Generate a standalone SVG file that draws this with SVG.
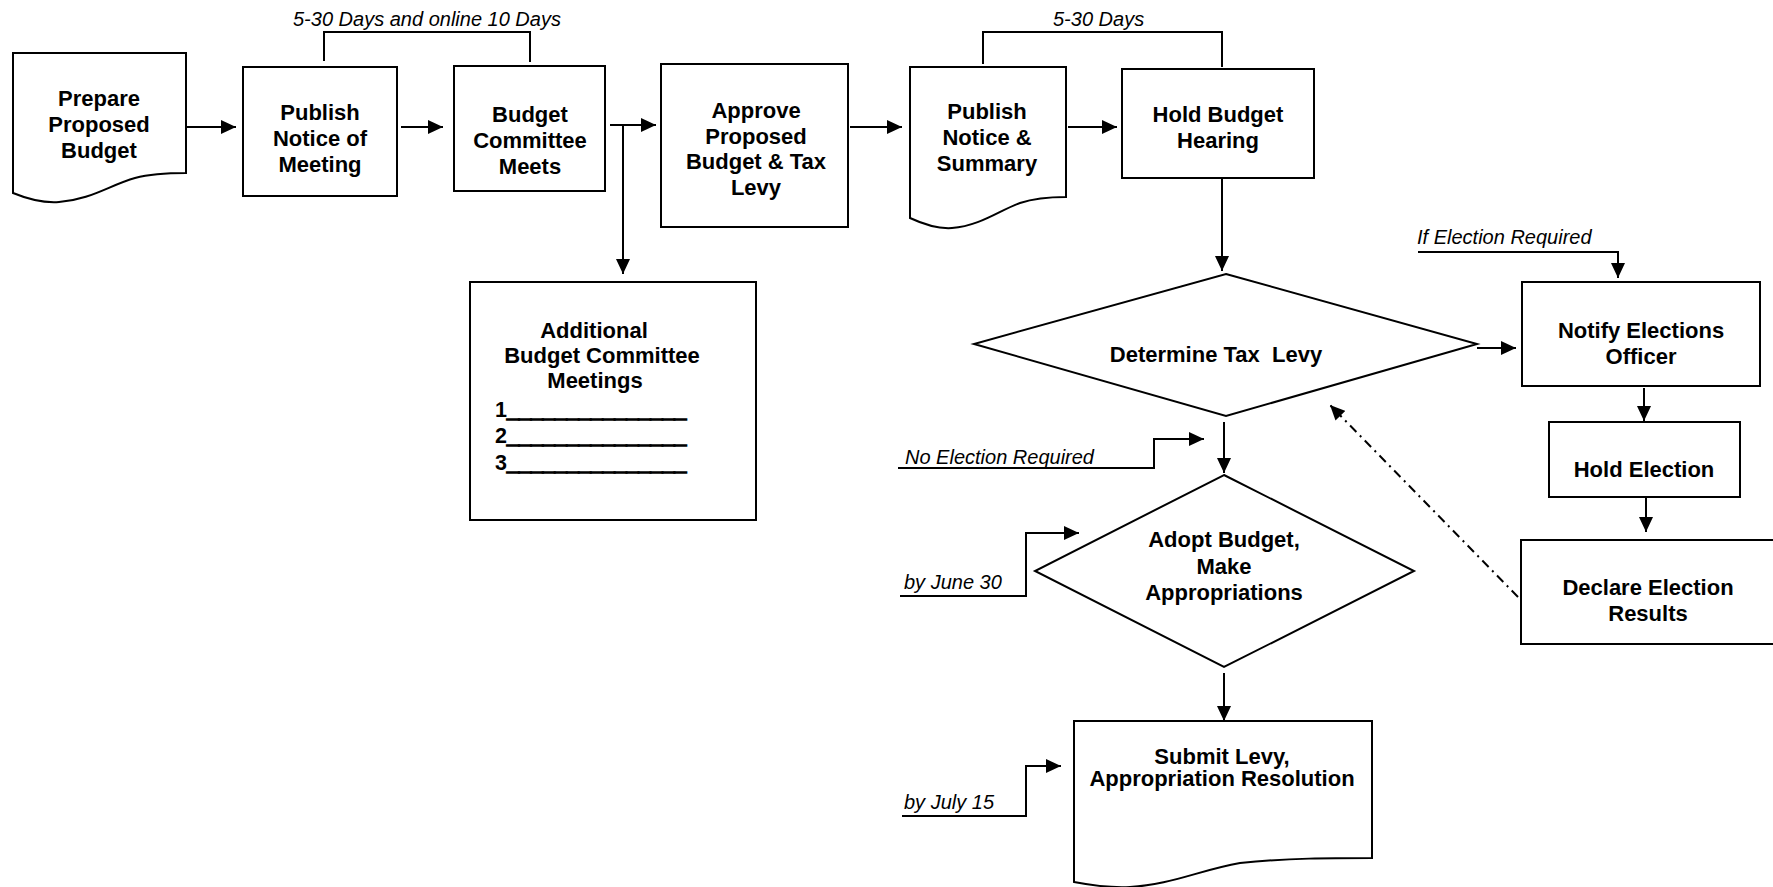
<svg xmlns="http://www.w3.org/2000/svg" width="1773" height="887" viewBox="0 0 1773 887">
<style>
.box{fill:#fff;stroke:#000;stroke-width:2}
.t{font-family:"Liberation Sans",Arial,sans-serif;font-weight:bold;font-size:22px;fill:#000;text-anchor:middle}
.num{text-anchor:start;font-size:21.5px}
.us{stroke:#000;stroke-width:1.8}
.lbl{font-family:"Liberation Sans",Arial,sans-serif;font-style:italic;font-size:20px;fill:#000}
.c{fill:none;stroke:#000;stroke-width:2}
.dd{stroke-dasharray:9,5,2,5}
</style>
<defs>
<marker id="ah" markerUnits="userSpaceOnUse" markerWidth="15" markerHeight="14" refX="15" refY="7" orient="auto">
<path d="M0,0 L15,7 L0,14 Z" fill="#000"/>
</marker>
</defs>
<rect width="1773" height="887" fill="#fff"/>

<g id="connectors">
<path class="c" d="M186,127 H236" marker-end="url(#ah)"/>
<path class="c" d="M401,127 H443" marker-end="url(#ah)"/>
<path class="c" d="M610,125 H656" marker-end="url(#ah)"/>
<path class="c" d="M623,125 V274" marker-end="url(#ah)"/>
<path class="c" d="M850,127 H902" marker-end="url(#ah)"/>
<path class="c" d="M1068,127 H1117" marker-end="url(#ah)"/>
<path class="c" d="M1222,178 V271" marker-end="url(#ah)"/>
<path class="c" d="M1224,422 V473" marker-end="url(#ah)"/>
<path class="c" d="M1477,348 H1516" marker-end="url(#ah)"/>
<path class="c" d="M1644,388 V421" marker-end="url(#ah)"/>
<path class="c" d="M1646,496 V532" marker-end="url(#ah)"/>
<path class="c dd" d="M1518,597 L1330,405" marker-end="url(#ah)"/>
<path class="c" d="M1224,673 V721" marker-end="url(#ah)"/>
<path class="c" d="M898,468 H1154 V439 H1204" marker-end="url(#ah)"/>
<path class="c" d="M1418,252 H1618 V278" marker-end="url(#ah)"/>
<path class="c" d="M900,596 H1026 V533 H1079" marker-end="url(#ah)"/>
<path class="c" d="M902,816 H1026 V766 H1061" marker-end="url(#ah)"/>
<path class="c" d="M324,61 V32 H530 V62"/>
<path class="c" d="M983,64 V32 H1222 V67"/>
<text class="lbl" x="293" y="26">5-30 Days and online 10 Days</text>
<text class="lbl" x="1053" y="26">5-30 Days</text>
<text class="lbl" x="1417" y="244">If Election Required</text>
<text class="lbl" x="905" y="464">No Election Required</text>
<text class="lbl" x="904" y="589">by June 30</text>
<text class="lbl" x="904" y="809">by July 15</text>
</g>

<g id="prepare">
<path class="box" d="M13,53 H186 V173 C165,173 150,174 135,178 C110,185 90,200 59,202 C45,203 30,200 13,193 Z"/>
<text class="t" x="99" y="106">Prepare</text>
<text class="t" x="99" y="132">Proposed</text>
<text class="t" x="99" y="158">Budget</text>
</g>

<g id="publish-notice">
<rect class="box" x="243" y="67" width="154" height="129"/>
<text class="t" x="320" y="120">Publish</text>
<text class="t" x="320" y="146">Notice of</text>
<text class="t" x="320" y="172">Meeting</text>
</g>

<g id="committee-meets">
<rect class="box" x="454" y="66" width="151" height="125"/>
<text class="t" x="530" y="122">Budget</text>
<text class="t" x="530" y="148">Committee</text>
<text class="t" x="530" y="174">Meets</text>
</g>

<g id="additional-meetings">
<rect class="box" x="470" y="282" width="286" height="238"/>
<text class="t" x="594" y="338">Additional</text>
<text class="t" x="602" y="363">Budget Committee</text>
<text class="t" x="595" y="388">Meetings</text>
<text class="t num" x="495" y="417">1<tspan class="us">_______________</tspan></text>
<text class="t num" x="495" y="443">2<tspan class="us">_______________</tspan></text>
<text class="t num" x="495" y="470">3<tspan class="us">_______________</tspan></text>
</g>

<g id="approve">
<rect class="box" x="661" y="64" width="187" height="163"/>
<text class="t" x="756" y="118">Approve</text>
<text class="t" x="756" y="143.5">Proposed</text>
<text class="t" x="756" y="169">Budget &amp; Tax</text>
<text class="t" x="756" y="194.5">Levy</text>
</g>

<g id="publish-summary">
<path class="box" d="M910,67 H1066 V197 C1050,197 1035,198 1020,203 C1000,210 980,226 952,228 C938,229 925,225 910,218 Z"/>
<text class="t" x="987" y="119">Publish</text>
<text class="t" x="987" y="145">Notice &amp;</text>
<text class="t" x="987" y="171">Summary</text>
</g>

<g id="hearing">
<rect class="box" x="1122" y="69" width="192" height="109"/>
<text class="t" x="1218" y="122">Hold Budget</text>
<text class="t" x="1218" y="148">Hearing</text>
</g>

<g id="determine-levy">
<path class="box" d="M1226,274 L1477,344 L1226,416 L974,344 Z"/>
<text class="t" x="1216" y="362" xml:space="preserve">Determine Tax  Levy</text>
</g>

<g id="adopt-budget">
<path class="box" d="M1224,475 L1414,571 L1224,667 L1035,571 Z"/>
<text class="t" x="1224" y="547">Adopt Budget,</text>
<text class="t" x="1224" y="573.5">Make</text>
<text class="t" x="1224" y="600">Appropriations</text>
</g>

<g id="submit-levy">
<path class="box" d="M1074,721 H1372 V858 C1330,858 1290,858 1240,863 C1200,870 1170,885 1130,887 C1112,888 1095,886 1074,882 Z"/>
<text class="t" x="1222" y="764">Submit Levy,</text>
<text class="t" x="1222" y="786">Appropriation Resolution</text>
</g>

<g id="notify-officer">
<rect class="box" x="1522" y="282" width="238" height="104"/>
<text class="t" x="1641" y="338">Notify Elections</text>
<text class="t" x="1641" y="364">Officer</text>
</g>

<g id="hold-election">
<rect class="box" x="1549" y="422" width="191" height="75"/>
<text class="t" x="1644" y="477">Hold Election</text>
</g>

<g id="declare-results">
<rect class="box" x="1521" y="540" width="262" height="104"/>
<text class="t" x="1648" y="595">Declare Election</text>
<text class="t" x="1648" y="621">Results</text>
</g>
</svg>
